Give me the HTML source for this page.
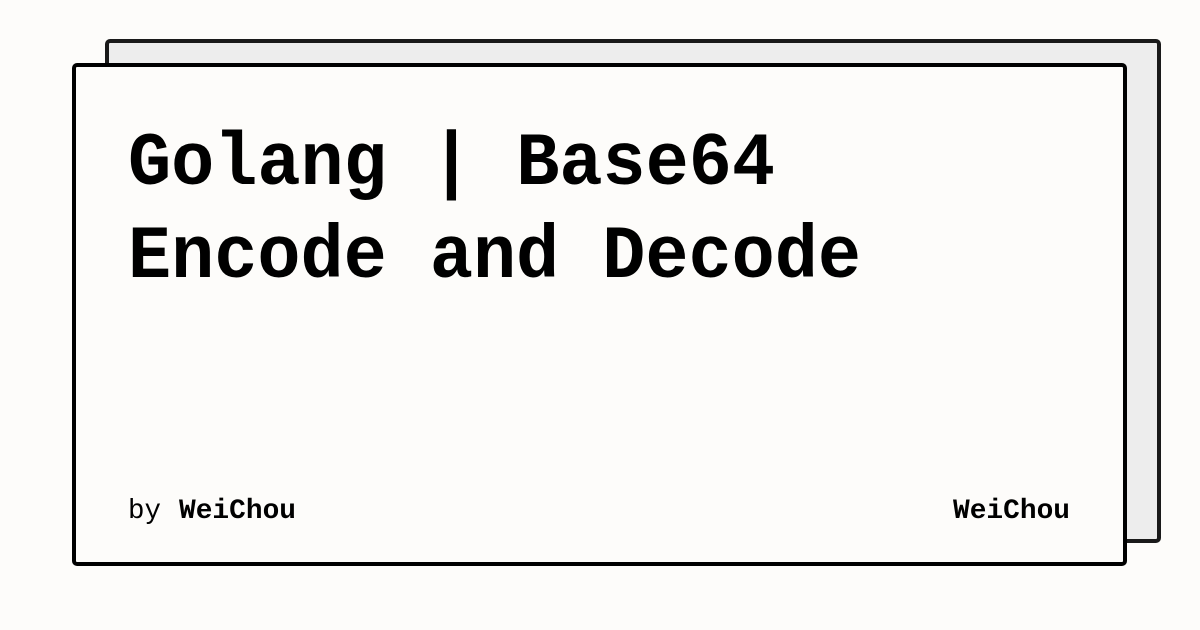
<!DOCTYPE html>
<html><head><meta charset="utf-8"><style>
html,body{margin:0;padding:0;background:#fdfcfa;width:1200px;height:630px;overflow:hidden}
</style></head><body>
<svg width="1200" height="630" xmlns="http://www.w3.org/2000/svg">
<rect x="0" y="0" width="1200" height="630" fill="#fdfcfa"/>
<rect x="107" y="41" width="1052" height="500" rx="3" fill="#ededed" stroke="#1a1a1a" stroke-width="4"/>
<rect x="74" y="65" width="1051" height="499" rx="3" fill="#fdfcfa" stroke="#000" stroke-width="4"/>
<g font-family="'Liberation Mono', monospace" font-weight="bold" fill="#000">
<text transform="translate(128,184) scale(1,1.05)" font-size="72" textLength="647" lengthAdjust="spacingAndGlyphs">Golang | Base64</text>
<text transform="translate(128,277) scale(1,1.05)" font-size="72" textLength="733" lengthAdjust="spacingAndGlyphs">Encode and Decode</text>
<text x="179" y="518" font-size="28" textLength="117" lengthAdjust="spacingAndGlyphs">WeiChou</text>
<text x="953" y="518" font-size="28" textLength="117" lengthAdjust="spacingAndGlyphs">WeiChou</text>
</g>
<text x="128" y="518" font-family="'Liberation Mono', monospace" font-size="28" fill="#000" textLength="33" lengthAdjust="spacingAndGlyphs">by</text>
</svg>
</body></html>
